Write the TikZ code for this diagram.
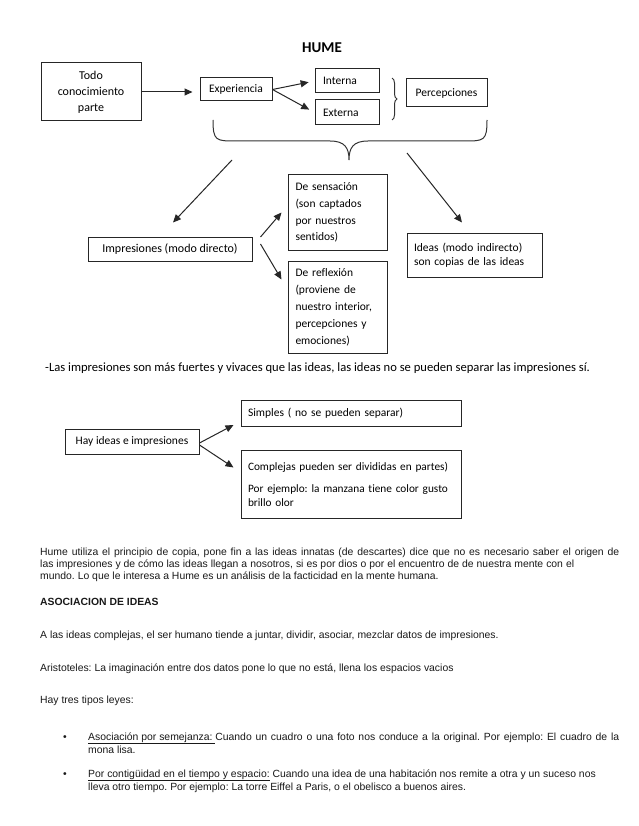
\documentclass[tikz,border=0pt]{standalone}
\usepackage{fontspec}
\setmainfont{Carlito}[Ligatures=NoCommon]
\newfontfamily\arialf{Liberation Sans}
\usetikzlibrary{arrows.meta,decorations.pathreplacing}
\frenchspacing
\begin{document}
\begin{tikzpicture}[x=1pt,y=-1pt,
  box/.style={draw=black!85,line width=1pt,inner sep=0pt,font=\fontsize{11.5}{16}\selectfont,text=black},
  arr/.style={-{Triangle[length=8pt,width=7pt]},line width=1pt,draw=black!85},
  body/.style={font=\arialf\fontsize{10.4}{12}\selectfont,anchor=base west,inner sep=0pt,text=black!90},
  brc/.style={line width=1pt,draw=black!80}]
\useasboundingbox (0,0) rectangle (638,826);
\fill[white] (0,0) rectangle (638,826);

\node[font=\bfseries\fontsize{15}{18}\selectfont,text=black] (hume) at (322,48) {HUME};

\node[box,minimum width=100pt,minimum height=58pt,align=center,font=\fontsize{12}{16}\selectfont] (todo) at (91,92) {Todo\\conocimiento\\parte};
\node[box,minimum width=72pt,minimum height=23pt] (exp) at (236,89.5) {Experiencia};
\node[box,minimum width=64pt,minimum height=24pt,text width=48pt,align=left] (interna) at (347,81) {Interna};
\node[box,minimum width=64pt,minimum height=25pt,text width=48pt,align=left] (externa) at (347,112.5) {Externa};
\node[box,minimum width=81pt,minimum height=28pt] (percep) at (446.5,93) {Percepciones};

\draw[arr] (todo.east) -- ([xshift=-7pt]todo.east -| exp.west);
\draw[arr,shorten >=6pt] (exp.east) -- (interna.west);
\draw[arr,shorten >=6pt] (exp.east) -- (externa.west);

% small brace
\draw[brc,decorate,decoration={brace,amplitude=5pt}] (392,78) -- (392,120);
% big brace
\draw[brc] (213,120) .. controls (213,141) and (216,141) .. (236,141) -- (330,141)
  .. controls (345,141) and (349,148) .. (349,160)
  .. controls (349,148) and (353,141) .. (368,141) -- (464,141)
  .. controls (484,141) and (487,141) .. (487,120);

\node[box,minimum width=164pt,minimum height=24pt,font=\fontsize{12}{16}\selectfont] (impres) at (170,249) {Impresiones (modo directo)};
\node[box,minimum width=99pt,minimum height=75pt,text width=84pt,align=left,font=\fontsize{11.5}{16.7}\selectfont] (sens) at (337.5,212.5) {De sensación\\(son captados\\por nuestros\\sentidos)};
\node[box,minimum width=99pt,minimum height=92pt,text width=84pt,align=left,font=\fontsize{11.5}{17}\selectfont] (refl) at (337.5,307) {De reflexión\\(proviene de\\nuestro interior,\\percepciones y\\emociones)};
\node[box,minimum width=135pt,minimum height=44pt,text width=121pt,align=left,font=\fontsize{11.5}{14.5}\selectfont] (ideas) at (474.5,255) {Ideas (modo indirecto)\\son copias de las ideas};

\coordinate (bl) at (232,160);
\coordinate (br) at (407,153);
\draw[arr] (bl) -- ([xshift=3pt,yshift=14pt]impres.north);
\draw[arr] (br) -- ([xshift=-12.5pt,yshift=10pt]ideas.north);
\draw[arr] ([xshift=8pt,yshift=12pt]impres.east) -- ([xshift=-6pt]sens.west);
\draw[arr] ([xshift=8pt,yshift=5pt]impres.east) -- ([xshift=-6pt,yshift=-19pt]refl.north west);

\node[font=\fontsize{12.6}{14}\selectfont,anchor=base west,inner sep=0pt,text=black] (sent) at (45,371) {-Las impresiones son más fuertes y vivaces que las ideas, las ideas no se pueden separar las impresiones sí.};

\node[box,minimum width=134pt,minimum height=25pt] (hay) at (132,441.5) {Hay ideas e impresiones};
\node[box,minimum width=220pt,minimum height=26pt,text width=206pt,align=left] (simples) at (351,413) {Simples ( no se pueden separar)};
\node[box,minimum width=220pt,minimum height=68pt,text width=206pt,align=left,font=\fontsize{11.3}{14}\selectfont] (compl) at (351,484) {Complejas pueden ser divididas en partes)\\[8pt]Por ejemplo: la manzana tiene color gusto\\brillo olor};
\draw[arr] ([yshift=-1.5pt]hay.east) -- ([xshift=-7pt,yshift=-12pt]simples.west);
\draw[arr] ([yshift=-3.5pt]hay.east) -- ([xshift=-7pt,yshift=-18pt]compl.north west);

% body text
\node[body] (p1) at (40,555) {\makebox[579pt][s]{Hume utiliza el principio de copia, pone fin a las ideas innatas (de descartes) dice que no es necesario saber el origen de}};
\node[body] (p2) at (40,567) {\makebox[534pt][s]{las impresiones y de cómo las ideas llegan a nosotros, si es por dios o por el encuentro de de nuestra mente con el}};
\node[body] (p3) at (40,579) {mundo. Lo que le interesa a Hume es un análisis de la facticidad en la mente humana.};
\node[body,font=\arialf\bfseries\fontsize{10.4}{12}\selectfont] (h1) at (40,605) {ASOCIACION DE IDEAS};
\node[body] (p4) at (40,638) {A las ideas complejas, el ser humano tiende a juntar, dividir, asociar, mezclar datos de impresiones.};
\node[body] (p5) at (40,671) {Aristoteles: La imaginación entre dos datos pone lo que no está, llena los espacios vacios};
\node[body] (p6) at (40,703) {Hay tres tipos leyes:};
\node[body] (b1) at (63,740) {•};
\node[body] (b1a) at (88,740) {\makebox[531pt][s]{\underline{Asociación por semejanza:\ }Cuando un cuadro o una foto nos conduce a la original. Por ejemplo: El cuadro de la}};
\node[body] (b1b) at (88,753) {mona lisa.};
\node[body] (b2) at (63,777) {•};
\node[body] (b2a) at (88,777) {\underline{Por contigüidad en el tiempo y espacio:} Cuando una idea de una habitación nos remite a otra y un suceso nos};
\node[body] (b2b) at (88,790) {lleva otro tiempo. Por ejemplo: La torre Eiffel a Paris, o el obelisco a buenos aires.};
\end{tikzpicture}
\end{document}
